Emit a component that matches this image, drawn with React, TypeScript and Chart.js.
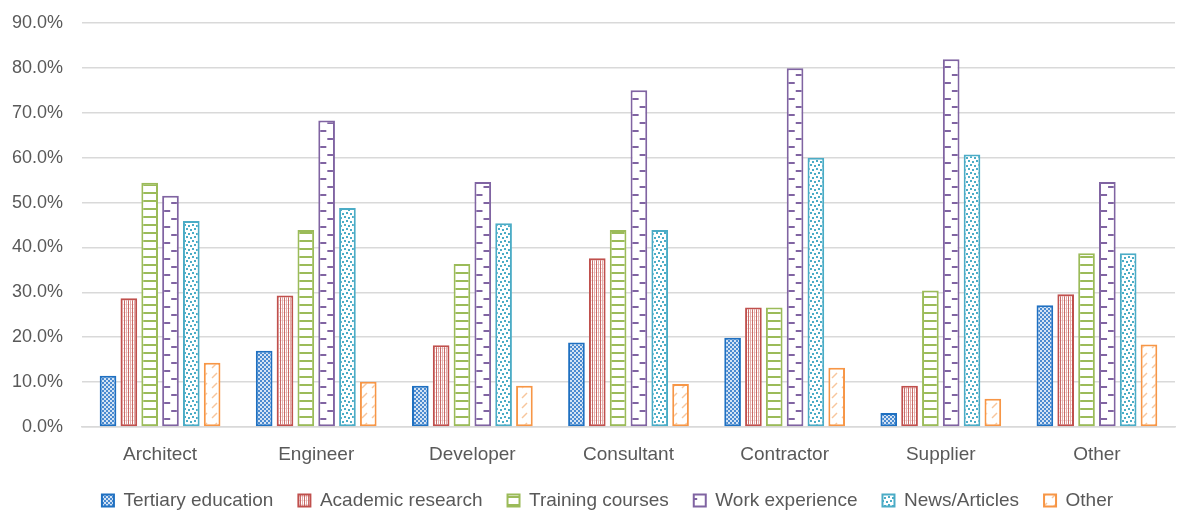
import React, { useEffect, useRef } from "react";
import { Chart, registerables } from "chart.js";

Chart.register(...registerables);

const CATEGORIES = ["Architect", "Engineer", "Developer", "Consultant", "Contractor", "Supplier", "Other"];
const SERIES_NAMES = ["Tertiary education", "Academic research", "Training courses", "Work experience", "News/Articles", "Other"];
const TERTIARY = [11.4, 17.0, 9.2, 18.8, 19.9, 3.1, 27.1];
const ACADEMIC = [28.7, 29.3, 18.2, 37.6, 26.6, 9.2, 29.6];
const TRAINING = [54.4, 43.9, 36.3, 43.9, 26.6, 30.4, 38.7];
const WORK = [51.5, 68.3, 54.6, 75.0, 79.9, 81.9, 54.6];
const NEWS = [45.9, 48.8, 45.4, 43.9, 60.0, 60.7, 38.7];
const OTHER = [14.3, 10.1, 9.2, 9.6, 13.2, 6.3, 18.4];
const Y_TICKS = [0, 10, 20, 30, 40, 50, 60, 70, 80, 90];

const COLORS = ["#1f70c1", "#c0504d", "#9bbb59", "#8064a2", "#4bacc6", "#f79646"];
const CAT_PCT = 0.8;
const BAR_PCT = 0.8;

function makePattern(w: number, h: number, draw: (c: CanvasRenderingContext2D) => void) {
  const cv = document.createElement("canvas");
  cv.width = w;
  cv.height = h;
  const c = cv.getContext("2d")!;
  c.fillStyle = "#ffffff";
  c.fillRect(0, 0, w, h);
  draw(c);
  return c.createPattern(cv, "repeat")!;
}

function buildPatterns() {
  const tertiary = makePattern(4, 4, (c) => {
    c.fillStyle = "#d3e3f4";
    c.fillRect(0, 0, 4, 4);
    c.fillStyle = "#4a8ad0";
    c.fillRect(0, 0, 2, 2);
    c.fillRect(2, 2, 2, 2);
  });
  const academic = makePattern(4, 4, (c) => {
    c.fillStyle = "#f3dcdb";
    c.fillRect(0, 0, 4, 1);
    c.fillStyle = "#c86a67";
    c.fillRect(0, 0, 1, 4);
    c.fillStyle = "#e3aaa8";
    c.fillRect(2, 0, 1, 4);
  });
  const training = makePattern(8, 8, (c) => {
    c.fillStyle = "#9bbb59";
    c.fillRect(0, 0, 8, 2);
  });
  const news = makePattern(8, 8, (c) => {
    c.fillStyle = "#4bacc6";
    c.fillRect(0, 0, 2, 2);
    c.fillRect(4, 1, 2, 2);
    c.fillRect(2, 4, 2, 2);
    c.fillRect(6, 5, 2, 2);
  });
  const other = makePattern(10, 10, (c) => {
    c.strokeStyle = "#f8c69c";
    c.lineWidth = 1.5;
    c.beginPath();
    c.moveTo(2, 8);
    c.lineTo(7, 3);
    c.stroke();
  });
  return { tertiary, academic, training, news, other };
}

function workTile(w: number) {
  return makePattern(w, 16, (c) => {
    c.fillStyle = "#8064a2";
    c.fillRect(0, 2, 8, 2);
    c.fillRect(w - 8, 10, 8, 2);
  });
}

function workFill(ctx: any) {
  const chart = ctx.chart;
  const xs = chart && chart.scales && chart.scales.x;
  const idx = typeof ctx.dataIndex === "number" ? ctx.dataIndex : 0;
  if (!xs || !xs.width) return workTile(17);
  const cw = xs.width / CATEGORIES.length;
  const slot = (cw * CAT_PCT) / 6;
  const bw = Math.max(10, Math.round(slot * BAR_PCT));
  const left = xs.getPixelForValue(idx) - (cw * CAT_PCT) / 2 + slot * 3 + (slot * (1 - BAR_PCT)) / 2;
  const p = workTile(bw);
  try {
    p.setTransform(new DOMMatrix([1, 0, 0, 1, left, 0]));
  } catch (e) {}
  return p;
}

const legendShift = {
  id: "legendShift",
  afterLayout(chart: any) {
    const lg = chart.legend;
    if (lg) {
      lg.left += 20;
      lg.right += 20;
    }
  },
};

export default function App() {
  const ref = useRef<HTMLCanvasElement>(null);
  useEffect(() => {
    document.body.style.margin = "0";
    const pats = buildPatterns();
    const fills: any[] = [pats.tertiary, pats.academic, pats.training, workFill, pats.news, pats.other];
    const values = [TERTIARY, ACADEMIC, TRAINING, WORK, NEWS, OTHER];
    const font = "'Liberation Sans', Arial, sans-serif";
    const chart = new Chart(ref.current!, {
      type: "bar",
      data: {
        labels: CATEGORIES,
        datasets: SERIES_NAMES.map((name, i) => ({
          label: name,
          data: values[i],
          backgroundColor: fills[i],
          borderColor: COLORS[i],
          borderWidth: 2,
          borderSkipped: false,
          categoryPercentage: CAT_PCT,
          barPercentage: BAR_PCT,
        })),
      },
      plugins: [legendShift],
      options: {
        responsive: false,
        animation: false,
        layout: { padding: { left: 0, right: 2, top: 23, bottom: 0 } },
        plugins: {
          tooltip: { enabled: false },
          legend: {
            position: "bottom",
            labels: {
              boxWidth: 12,
              boxHeight: 12,
              padding: 25,
              color: "#595959",
              font: { family: font, size: 19 },
            },
          },
        },
        scales: {
          x: {
            grid: { display: false, drawTicks: false },
            border: { color: "#d9d9d9", width: 1.5 },
            ticks: { color: "#595959", font: { family: font, size: 19 }, padding: 16 },
            afterFit: (axis: any) => {
              axis.height = 39;
              axis.paddingLeft = 0;
              axis.paddingRight = 0;
            },
          },
          y: {
            min: 0,
            max: 90,
            afterBuildTicks: (axis: any) => {
              axis.ticks = Y_TICKS.map((v) => ({ value: v }));
            },
            afterFit: (axis: any) => {
              axis.width = 82;
              axis.paddingTop = 0;
              axis.paddingBottom = 0;
            },
            grid: { color: "#d9d9d9", lineWidth: 1.5, drawTicks: false },
            border: { display: false },
            ticks: {
              color: "#595959",
              font: { family: font, size: 18 },
              padding: 19,
              callback: (v: any) => Number(v).toFixed(1) + "%",
            },
          },
        },
      },
    });
    return () => chart.destroy();
  }, []);
  return (
    <div style={{ width: 1177, height: 513, overflow: "hidden" }}>
      <canvas ref={ref} width={1177} height={520} />
    </div>
  );
}
